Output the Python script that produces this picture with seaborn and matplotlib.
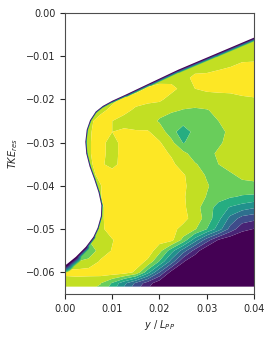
import numpy as np
import matplotlib
matplotlib.use("Agg")
import matplotlib.pyplot as plt
import seaborn as sns
from matplotlib.collections import LineCollection

# ---------------- data ----------------
x_grid = [0.0, 0.0025, 0.005, 0.0075, 0.01, 0.0125, 0.015, 0.0175, 0.02,
          0.0225, 0.025, 0.0275, 0.03, 0.0325, 0.035, 0.0375, 0.04]
y_grid = [-0.0633, -0.0625, -0.06, -0.0575, -0.055, -0.0525, -0.05, -0.0475,
          -0.045, -0.0425, -0.04, -0.0375, -0.035, -0.0325, -0.03, -0.0275,
          -0.025, -0.0225, -0.02, -0.0175, -0.015, -0.0125, -0.01, -0.0075, -0.005]
# contour-level index of the resolved TKE (0 = lowest band ... 8 = highest band)
tke_level = [
    [7.3, 7.3, 7.2, 6.9, 5.6, 4.0, 2.5, 1.2, 0.1, 0, 0, 0, 0, 0, 0, 0, 0],
    [7.4, 7.4, 7.3, 7.05, 5.9, 4.3, 2.8, 1.5, 0.3, 0, 0, 0, 0, 0, 0, 0, 0],
    [8.3, 8.4, 8.4, 8.5, 8.6, 8.5, 7.8, 5.4, 3.0, 0.6, 0, 0, 0, 0, 0, 0, 0],
    [7.3, 7.0, 7.4, 8.1, 8.5, 8.6, 8.5, 7.8, 5.9, 3.6, 1.1, 0, 0, 0, 0, 0, 0],
    [6.0, 6.0, 6.0, 7.6, 8.05, 8.5, 8.6, 8.6, 7.35, 5.44, 3.5, 1.6, 0, 0, 0, 0, 0],
    [7.0, 7.0, 7.0, 7.6, 7.95, 8.4, 8.6, 8.6, 8.4, 8.3, 6.7, 4.5, 2.5, 0.9, 0.2, 0, 0],
    [7.3, 7.3, 7.3, 7.8, 8.4, 8.6, 8.6, 8.6, 8.6, 8.3, 7.7, 7.1, 6.0, 4.5, 2.6, 1.3, 0.95],
    [7.3, 7.3, 7.3, 7.8, 8.5, 8.6, 8.6, 8.6, 8.6, 8.6, 8.3, 7.6, 6.6, 5.3, 3.7, 2.6, 2.3],
    [7.3, 7.3, 7.3, 7.8, 8.5, 8.6, 8.6, 8.6, 8.6, 8.5, 8.2, 7.4, 6.5, 5.6, 4.9, 4.5, 4.1],
    [7.3, 7.3, 7.6, 7.95, 8.6, 8.6, 8.6, 8.6, 8.6, 8.6, 8.1, 7.55, 6.95, 6.4, 6.1, 5.9, 5.8],
    [7.3, 7.3, 7.7, 7.95, 8.6, 8.6, 8.6, 8.6, 8.6, 8.6, 8.2, 7.5, 7.1, 6.6, 6.5, 6.6, 6.7],
    [7.3, 7.3, 7.7, 8.2, 8.6, 8.6, 8.6, 8.6, 8.6, 8.5, 8.1, 7.5, 6.9, 6.5, 6.8, 7.3, 7.4],
    [7.3, 7.6, 7.9, 8.2, 7.6, 8.5, 8.6, 8.6, 8.5, 8.2, 7.6, 7.1, 6.6, 7.0, 7.5, 7.5, 7.6],
    [7.3, 7.8, 7.9, 8.4, 7.5, 8.5, 8.5, 8.4, 8.3, 7.9, 7.3, 6.5, 6.6, 7.2, 7.5, 7.5, 7.5],
    [7.3, 7.8, 7.9, 8.4, 7.5, 8.5, 8.5, 8.4, 8.1, 7.3, 5.95, 6.3, 6.4, 6.8, 7.4, 7.5, 7.5],
    [7.3, 7.8, 7.9, 8.3, 8.0, 8.2, 8.1, 8.1, 7.5, 6.5, 5.3, 6.4, 6.3, 6.6, 7.3, 7.5, 7.5],
    [7.3, 7.5, 7.8, 8.3, 8.0, 7.6, 7.5, 7.4, 6.9, 6.5, 6.5, 6.5, 6.6, 7.0, 7.4, 7.5, 7.5],
    [7.3, 7.3, 7.5, 7.8, 8.2, 8.3, 7.8, 7.5, 7.3, 7.15, 6.95, 6.85, 6.95, 7.2, 7.5, 7.5, 7.6],
    [7.3, 7.3, 7.3, 7.5, 7.8, 8.2, 8.4, 8.3, 8.2, 7.6, 7.5, 7.5, 7.5, 7.5, 7.6, 7.8, 7.9],
    [7.3, 7.3, 7.3, 7.3, 7.3, 7.5, 7.7, 8.1, 8.4, 8.3, 7.7, 8.0, 8.2, 8.3, 8.3, 8.4, 8.4],
    [7.5, 7.5, 7.5, 7.5, 7.5, 7.5, 7.5, 7.5, 7.5, 7.6, 7.6, 8.3, 8.4, 8.5, 8.5, 8.5, 8.5],
    [7.5, 7.5, 7.5, 7.5, 7.5, 7.5, 7.5, 7.5, 7.5, 7.5, 7.5, 7.5, 7.5, 7.8, 8.0, 8.4, 8.4],
    [7.5, 7.5, 7.5, 7.5, 7.5, 7.5, 7.5, 7.5, 7.5, 7.5, 7.5, 7.5, 7.5, 7.5, 7.5, 7.5, 7.6],
    [7.5, 7.5, 7.5, 7.5, 7.5, 7.5, 7.5, 7.5, 7.5, 7.5, 7.5, 7.5, 7.5, 7.5, 7.5, 7.5, 7.5],
    [7.5, 7.5, 7.5, 7.5, 7.5, 7.5, 7.5, 7.5, 7.5, 7.5, 7.5, 7.5, 7.5, 7.5, 7.5, 7.5, 7.5],
]
band_edges = [-10, 1, 2, 3, 4, 5, 6, 7, 8, 20]

# hull outline (wall) of the section
hull_x = [0.0400, 0.0320, 0.0240, 0.0180, 0.0130, 0.0100, 0.0080, 0.0065, 0.0053,
          0.0046, 0.0043, 0.0045, 0.0052, 0.0062, 0.0071, 0.0077, 0.0076, 0.0069,
          0.0060, 0.0044, 0.0023, 0.0005, 0.0000]
hull_y = [-0.0057, -0.0094, -0.0131, -0.0162, -0.0188, -0.0203, -0.0215, -0.0228,
          -0.0248, -0.0270, -0.0298, -0.0325, -0.0355, -0.0385, -0.0415, -0.0445,
          -0.0470, -0.0497, -0.0518, -0.0541, -0.0564, -0.0580, -0.0584]

x_ticks = [0.00, 0.01, 0.02, 0.03, 0.04]
y_ticks = [0.00, -0.01, -0.02, -0.03, -0.04, -0.05, -0.06]

# ---------------- style ----------------
sns.set_theme(style="ticks")
plt.rcParams["font.family"] = ["DejaVu Sans"]
plt.rcParams["mathtext.fontset"] = "dejavusans"

fig, ax = plt.subplots(figsize=(2.74, 3.37), dpi=100)
fig.subplots_adjust(left=0.2372, right=0.927, bottom=0.1276, top=0.9614)

cmap = plt.get_cmap("viridis")
band_colors = [cmap(v) for v in [0.0, 0.1, 0.23, 0.36, 0.5, 0.62, 0.77, 0.91, 1.0]]

ax.contourf(x_grid, y_grid, np.array(tke_level), levels=band_edges,
            colors=band_colors, zorder=1, antialiased=True)

# thin wall boundary layer drawn along the hull (inner half remains visible)
wall_px = [3.5, 3.5, 3.2, 2.8, 2.2, 1.8, 1.5, 1.3, 1.3, 1.3, 1.3, 1.3, 1.3, 1.3,
           1.3, 1.3, 1.3, 1.3, 1.5, 3.0, 5.5, 7.0, 7.0]
pts = np.column_stack([hull_x, hull_y])
segs = [pts[i:i + 2] for i in range(len(pts) - 1)]
seg_th = np.array([(wall_px[i] + wall_px[i + 1]) / 2 for i in range(len(pts) - 1)])
fracs = [0.25, 0.38, 0.5, 0.62, 0.74, 0.86, 1.0]
for k in reversed(range(len(fracs))):
    lc = LineCollection(segs, linewidths=2 * seg_th * fracs[k] * 0.72,
                        colors=[band_colors[k]], capstyle="round", zorder=2)
    ax.add_collection(lc)

# white outside the hull
ax.fill(list(hull_x) + [-0.001, -0.001, 0.041, 0.041],
        list(hull_y) + [-0.0584, 0.001, 0.001, -0.0057],
        color="white", lw=0, zorder=3)

ax.set_xlim(0, 0.04)
ax.set_ylim(-0.065, 0.0)
ax.set_xticks(x_ticks)
ax.set_yticks(y_ticks)
ax.set_xticklabels([f"{v:.2f}" for v in x_ticks])
ax.set_yticklabels([f"{v:.2f}".replace("-", "\u2212") for v in y_ticks])
ax.tick_params(labelsize=7, length=3.5, width=0.8, colors="0.15")
for s in ax.spines.values():
    s.set_zorder(5)
    s.set_linewidth(0.8)
    s.set_edgecolor("0.3")

ax.set_xlabel(r"$y$ / $L_{PP}$", fontsize=7, labelpad=3)
ax.set_ylabel(r"$TKE_{res}$", fontsize=7, labelpad=4)

fig.savefig("out.png", dpi=100)
